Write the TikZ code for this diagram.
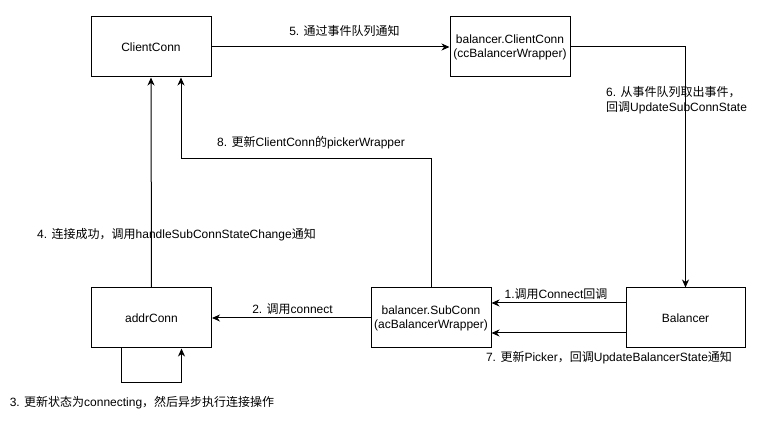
\documentclass[tikz,border=0pt]{standalone}
\usepackage{fontspec}
\setmainfont{Liberation Sans}
\newfontfamily\cjk{Noto Sans CJK SC}
\usetikzlibrary{arrows.meta}
\tikzset{
  box/.style={draw=black, line width=1pt, minimum width=120pt, minimum height=60pt, inner sep=0pt, align=center, font=\fontsize{12pt}{14pt}\selectfont},
  conn/.style={draw=black, line width=1pt, -{Stealth[length=8pt,width=7pt,inset=2.5pt]}},
  lbl/.style={inner sep=0pt, font=\fontsize{12pt}{15pt}\selectfont}
}
\begin{document}
\begin{tikzpicture}[x=1pt,y=-1pt]
\useasboundingbox (0,0) rectangle (761,427);
\node[box] (cc) at (151,47) {ClientConn};
\node[box] (bcc) at (510,47) {balancer.ClientConn\\(ccBalancerWrapper)};
\node[box] (ac) at (151.5,318) {addrConn};
\node[box] (sc) at (431,318) {balancer.SubConn\\(acBalancerWrapper)};
\node[box, minimum width=119pt] (bal) at (685.5,318) {Balancer};

\draw[conn] (cc.east) -- (bcc.west);
\draw[conn] (bcc.east) -| (bal.north);
\draw[conn] ([yshift=15pt]bal.west) -- ([yshift=15pt]sc.east);
\draw[conn] ([yshift=-15pt]bal.west) -- ([yshift=-15pt]sc.east);
\draw[conn] (sc.west) -- (ac.east);
\coordinate (l3) at (121.5,383);
\draw[conn] ([xshift=-30pt]ac.south) -- (l3) -| ([xshift=30pt]ac.south);
\draw[conn] (ac.north) -- (cc.south);
\coordinate (t8) at (431,159);
\draw[conn] (sc.north) -- (t8) -| ([xshift=30pt]cc.south);

\node[lbl] (n5) at (344.5,31) {5. {\cjk 通过事件队列通知}};
\node[lbl, anchor=west, align=left] (n6) at (606,100) {6. {\cjk 从事件队列取出事件，}\\{\cjk 回调}UpdateSubConnState};
\node[lbl] (n8) at (311,143) {8. {\cjk 更新}ClientConn{\cjk 的}pickerWrapper};
\node[lbl] (n4) at (176.5,235) {4. {\cjk 连接成功，调用}handleSubConnStateChange{\cjk 通知}};
\node[lbl] (n2) at (292.5,309) {2. {\cjk 调用}connect};
\node[lbl] (n1) at (556,294) {1.{\cjk 调用}Connect{\cjk 回调}};
\node[lbl] (n7) at (609,358) {7. {\cjk 更新}Picker{\cjk ，回调}UpdateBalancerState{\cjk 通知}};
\node[lbl] (n3) at (142,403) {3. {\cjk 更新状态为}connecting{\cjk ，然后异步执行连接操作}};
\end{tikzpicture}
\end{document}
